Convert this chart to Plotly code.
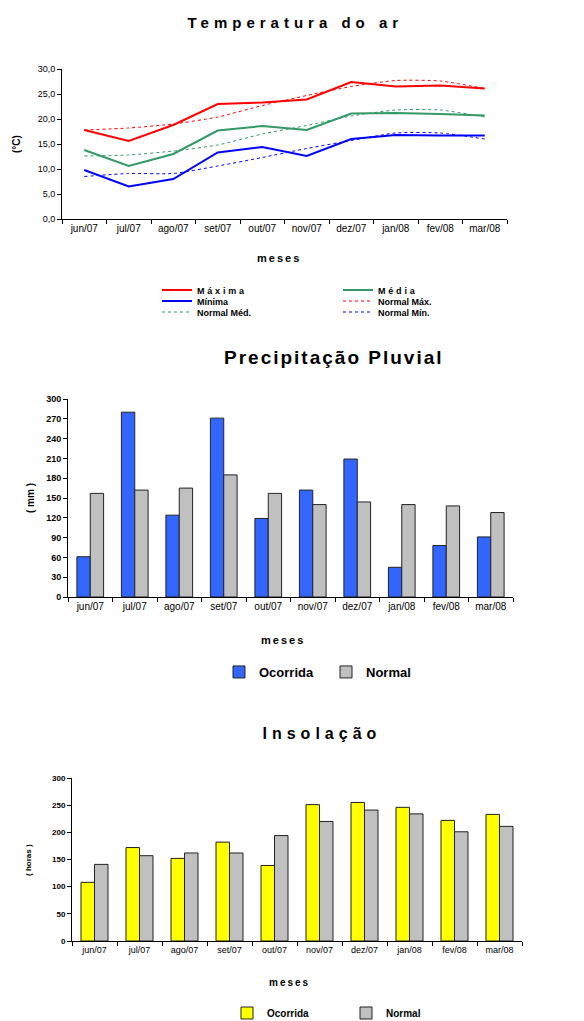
import plotly.graph_objects as go

W, H = 584, 1021

months = ["jun/07", "jul/07", "ago/07", "set/07", "out/07",
          "nov/07", "dez/07", "jan/08", "fev/08", "mar/08"]

# Temperatura do ar (°C)
t_max = [17.8, 15.6, 18.8, 23.0, 23.3, 23.9, 27.4, 26.5, 26.7, 26.1]
t_med = [13.8, 10.6, 13.0, 17.7, 18.6, 17.8, 21.1, 21.2, 21.0, 20.7]
t_min = [9.8, 6.5, 8.0, 13.3, 14.4, 12.6, 16.0, 16.8, 16.7, 16.7]
n_max = [17.8, 18.2, 19.0, 20.4, 22.7, 24.7, 26.5, 27.7, 27.6, 26.1]
n_med = [12.6, 12.8, 13.6, 14.8, 17.0, 18.7, 20.6, 21.8, 21.8, 20.4]
n_min = [8.5, 9.1, 9.1, 10.6, 12.3, 14.1, 15.7, 17.2, 17.2, 16.0]

# Precipitação pluvial (mm)
prec_oc = [61, 280, 124, 271, 119, 162, 209, 45, 78, 91]
prec_no = [157, 162, 165, 185, 157, 140, 144, 140, 138, 128]

# Insolação (horas)
ins_oc = [108, 172, 152, 182, 139, 251, 255, 246, 222, 233]
ins_no = [141, 157, 162, 162, 194, 220, 241, 234, 201, 211]

FONT = "Liberation Sans, Arial, sans-serif"
RED, GREEN, BLUE = "#FF0000", "#339966", "#0000FF"


def X(p):
    return p / W


def Y(p):
    return 1 - p / H


fig = go.Figure()

# ---- Temperature lines ----
line_specs = [
    ("Máxima", t_max, RED, "solid", 2, "legend"),
    ("Média", t_med, GREEN, "solid", 2, "legend"),
    ("Mínima", t_min, BLUE, "solid", 2, "legend2"),
    ("Normal Máx.", n_max, RED, "dash", 1, "legend2"),
    ("Normal Méd.", n_med, GREEN, "dash", 1, "legend3"),
    ("Normal Mín.", n_min, BLUE, "dash", 1, "legend3"),
]
for name, vals, col, dash, wid, leg in line_specs:
    fig.add_trace(go.Scatter(
        x=months, y=vals, name=name, mode="lines",
        line=dict(color=col, dash="3px,3px" if dash == "dash" else "solid", width=wid,
                  shape="spline" if dash == "dash" else "linear", smoothing=0.6),
        xaxis="x", yaxis="y", legend=leg))

# ---- Precipitation bars ----
fig.add_trace(go.Bar(x=months, y=prec_oc, name="Ocorrida",
                     marker=dict(color="#3366FF", line=dict(color="#222222", width=1)),
                     xaxis="x2", yaxis="y2", legend="legend4"))
fig.add_trace(go.Bar(x=months, y=prec_no, name="Normal",
                     marker=dict(color="#C0C0C0", line=dict(color="#222222", width=1)),
                     xaxis="x2", yaxis="y2", legend="legend4"))

# ---- Insolation bars ----
fig.add_trace(go.Bar(x=months, y=ins_oc, name="Ocorrida",
                     marker=dict(color="#FFFF00", line=dict(color="#222222", width=1)),
                     xaxis="x3", yaxis="y3", legend="legend5"))
fig.add_trace(go.Bar(x=months, y=ins_no, name="Normal",
                     marker=dict(color="#C0C0C0", line=dict(color="#222222", width=1)),
                     xaxis="x3", yaxis="y3", legend="legend5"))

xcommon = dict(type="category", showline=True, linecolor="black", linewidth=1,
               ticks="outside", tickson="boundaries", ticklen=4, tickcolor="black",
               showgrid=False, zeroline=False, fixedrange=True, range=[-0.5, 9.5])
ycommon = dict(showline=True, linecolor="black", linewidth=1, ticks="outside",
               ticklen=4, tickcolor="black", showgrid=False, zeroline=False,
               fixedrange=True)

leg_base = dict(bgcolor="rgba(0,0,0,0)", borderwidth=0, orientation="h",
                xanchor="left", yanchor="middle", traceorder="normal",
                font=dict(family=FONT, size=9, color="black", weight="bold"),
                entrywidth=136, entrywidthmode="pixels", itemclick=False,
                itemdoubleclick=False)

fig.update_layout(
    width=W, height=H,
    margin=dict(l=0, r=0, t=0, b=0, autoexpand=False),
    paper_bgcolor="white", plot_bgcolor="white",
    separators=", ",
    font=dict(family=FONT, color="black"),
    barmode="group",
    xaxis=dict(xcommon, domain=[X(62), X(507)], anchor="y",
               tickfont=dict(size=10)),
    yaxis=dict(ycommon, domain=[Y(219), Y(69)], anchor="x", range=[0, 30],
               dtick=5, tick0=0, tickformat=".1f", tickfont=dict(size=9)),
    xaxis2=dict(xcommon, domain=[X(68), X(513)], anchor="y2",
                tickfont=dict(size=10)),
    yaxis2=dict(ycommon, domain=[Y(597), Y(399)], anchor="x2", range=[0, 300],
                dtick=30, tick0=0, tickfont=dict(size=9, weight="bold")),
    xaxis3=dict(xcommon, domain=[X(72), X(522)], anchor="y3",
                tickfont=dict(size=9)),
    yaxis3=dict(ycommon, domain=[Y(941), Y(778)], anchor="x3", range=[0, 300],
                dtick=50, tick0=0, tickfont=dict(size=8, weight="bold")),
    bargap=0.4, bargroupgap=0,
    legend=dict(leg_base, x=X(157), y=Y(290)),
    legend2=dict(leg_base, x=X(157), y=Y(301)),
    legend3=dict(leg_base, x=X(157), y=Y(312)),
    legend4=dict(leg_base, x=X(219), y=Y(672), entrywidth=62,
                 font=dict(family=FONT, size=13, color="black", weight="bold")),
    legend5=dict(leg_base, x=X(227), y=Y(1013), entrywidth=74,
                 font=dict(family=FONT, size=10, color="black", weight="bold")),
)


def ann(text, px, py, size, bold=True, angle=0):
    fig.add_annotation(text=text, x=X(px), y=Y(py), xref="paper", yref="paper",
                       showarrow=False, textangle=angle, xanchor="center",
                       yanchor="middle",
                       font=dict(family=FONT, size=size, color="black",
                                 weight="bold" if bold else "normal"))


ann("Temperatura do ar", 295, 22, 15)
ann("(°C)", 17, 144, 10, angle=-90)
ann("meses", 279, 258, 11)

ann("Precipitação Pluvial", 334, 357, 19)
ann("( mm )", 30, 498, 10, angle=-90)
ann("meses", 283, 640, 11)

ann("Insolação", 322, 733, 16)
ann("( horas )", 28, 860, 8, angle=-90)
ann("meses", 290, 982, 10)

post = """
document.body.style.margin = '0px';
var css = document.createElement('style');
css.textContent = [
  '.legendtext[style*="font-size: 9px"] { letter-spacing: 2.8px !important; }',
  '.legendtext[style*="font-size: 13px"] { letter-spacing: 1px !important; }',
  '.legendtext[style*="font-size: 10px"] { letter-spacing: 2.5px !important; }',
  '.xtick text[style*="font-size: 9px"] { letter-spacing: 1.5px !important; }',
  '.ytick text[style*="font-size: 8px"] { letter-spacing: 2px !important; }'
].join('\\n');
document.head.appendChild(css);
function setLS(e, v) {
  if (e.style.getPropertyValue('letter-spacing') !== v) {
    e.style.setProperty('letter-spacing', v, 'important');
  }
}
function apply() {
  var legMap = {'9px': '2.8px', '13px': '1px', '10px': '2.5px'};
  document.querySelectorAll('.legendtext').forEach(function (e) {
    var v = legMap[e.style.fontSize];
    if (v) { setLS(e, v); }
  });
  document.querySelectorAll('.xtick text').forEach(function (e) {
    if (e.style.fontSize === '9px') { setLS(e, '1.5px'); }
  });
  document.querySelectorAll('.ytick text').forEach(function (e) {
    if (e.style.fontSize === '8px') { setLS(e, '2px'); }
  });
  var sp = {'Temperatura do ar': '5px', 'Insolação': '5px',
            'Precipitação Pluvial': '2px', 'meses': '2px'};
  document.querySelectorAll('.annotation-text').forEach(function (e) {
    var v = sp[e.textContent];
    if (v) { setLS(e, v); }
  });
}
apply();
new MutationObserver(apply).observe(document.body,
  {childList: true, subtree: true, attributes: true, attributeFilter: ['class']});
var n = 0;
var iv = setInterval(function () { apply(); n += 1; if (n > 200) { clearInterval(iv); } }, 50);
"""

fig.write_html("out.html", post_script=post, config={"displayModeBar": False})
